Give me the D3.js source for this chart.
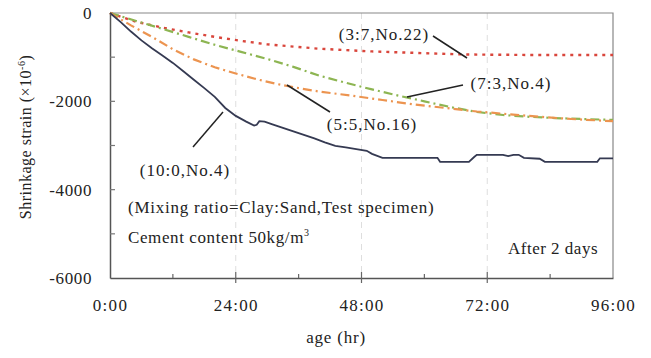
<!DOCTYPE html>
<html>
<head>
<meta charset="utf-8">
<script src="https://cdn.jsdelivr.net/npm/d3@7"></script>
<style>
  body { margin: 0; background: #fff; }
  text { font-family: "Liberation Serif", "Times New Roman", serif; fill: #222; }
</style>
</head>
<body>
<div id="chart"></div>
<script>
var svgWidth = 651;
var svgHeight = 358;
var margin = { top: 13, right: 38, bottom: 80, left: 110 };
var width = svgWidth - margin.left - margin.right;
var height = svgHeight - margin.top - margin.bottom;

// x tick values in hours, labels as h:mm
var xTicks = [0, 24, 48, 72, 96];
var xTickLabels = ["0:00", "24:00", "48:00", "72:00", "96:00"];
var yTicks = [0, -2000, -4000, -6000];

// series: [hour, strain]
var clay10 = [[0,0],[2,-200],[4,-420],[6,-620],[8,-800],[10,-960],[12,-1130],[14,-1320],[16,-1510],
  [18,-1700],[20,-1900],[22,-2150],[24,-2330],[26,-2460],[27.5,-2550],[28,-2530],[28.5,-2450],
  [29.5,-2460],[31,-2520],[33,-2600],[35,-2680],[37,-2760],[39,-2840],[41,-2930],[43,-3010],
  [45,-3040],[47,-3080],[49,-3120],[50,-3190],[52,-3280],[62.5,-3280],[63,-3370],[68.5,-3370],
  [69.5,-3260],[70,-3210],[75,-3210],[76,-3240],[77,-3210],[78,-3210],[79,-3280],[82,-3300],
  [83,-3370],[93,-3370],[93.5,-3290],[96,-3290]];
var clay3 = [[0,0],[5,-200],[10,-330],[15,-440],[20,-540],[25,-630],[30,-710],[40,-810],[50,-870],
  [60,-910],[68,-940],[80,-950],[96,-950]];
var clay7 = [[0,0],[5,-180],[10,-360],[15,-540],[20,-720],[25,-880],[30,-1040],[35,-1220],[40,-1420],
  [45,-1580],[50,-1730],[55,-1870],[60,-2000],[65,-2130],[70,-2240],[75,-2310],[80,-2350],
  [85,-2380],[90,-2400],[96,-2420]];
var clay5 = [[0,0],[4,-280],[8,-540],[12,-820],[16,-1050],[20,-1230],[24,-1370],[28,-1500],[32,-1610],
  [36,-1700],[40,-1780],[46,-1870],[52,-1970],[58,-2070],[64,-2150],[70,-2230],[76,-2290],
  [82,-2350],[88,-2400],[96,-2450]];

var svg = d3.select("#chart").append("svg")
  .attr("width", svgWidth)
  .attr("height", svgHeight);

var chartGroup = svg.append("g")
  .attr("transform", `translate(${margin.left}, ${margin.top})`);

var x = d3.scaleLinear().domain([0, 96]).range([0, width]);
var y = d3.scaleLinear().domain([-6000, 0]).range([height, 0]);

// dashed vertical gridlines
chartGroup.selectAll(".grid")
  .data([24, 48, 72])
  .enter()
  .append("line")
  .attr("x1", d => x(d)).attr("x2", d => x(d))
  .attr("y1", 0).attr("y2", height)
  .attr("stroke", "#dedede")
  .attr("stroke-dasharray", "6,5");

// frame top and right
chartGroup.append("path")
  .attr("d", `M0,0H${width}V${height}`)
  .attr("fill", "none")
  .attr("stroke", "#888")
  .attr("stroke-width", 1.2);

// x axis
var xAxis = chartGroup.append("g")
  .attr("transform", `translate(0, ${height})`)
  .call(d3.axisBottom(x).tickValues(xTicks).tickSize(0).tickPadding(21)
    .tickFormat((d, i) => xTickLabels[i]));
xAxis.select(".domain").attr("stroke", "#555").attr("stroke-width", 1.5);
xAxis.selectAll("text").style("font-size", "17px").style("letter-spacing", "1.3px").attr("fill", "#222");
xAxis.selectAll(".mtick")
  .data([12, 24, 36, 48, 60, 72, 84])
  .enter()
  .append("line")
  .attr("x1", d => x(d)).attr("x2", d => x(d))
  .attr("y1", d => d % 24 === 0 ? -6 : -4)
  .attr("y2", d => d % 24 === 0 ? 5 : 0)
  .attr("stroke", "#666")
  .attr("stroke-width", 1.2);

// y axis
var yAxis = chartGroup.append("g")
  .call(d3.axisLeft(y).tickValues(yTicks).tickSize(0).tickPadding(18).tickFormat(d => String(d)));
yAxis.select(".domain").attr("stroke", "#555").attr("stroke-width", 1.5);
yAxis.selectAll("text").style("font-size", "17px").style("letter-spacing", "0.6px").attr("fill", "#222");
yAxis.selectAll(".mtick")
  .data([-1000, -2000, -3000, -4000, -5000])
  .enter()
  .append("line")
  .attr("x1", 0).attr("x2", 5)
  .attr("y1", d => y(d)).attr("y2", d => y(d))
  .attr("stroke", "#777")
  .attr("stroke-width", 1.2);

var line = d3.line().x(d => x(d[0])).y(d => y(d[1]));

var series = [
  { data: clay3, color: "#d9463c", dash: "3,5", w: 2.4 },
  { data: clay7, color: "#8db552", dash: "9,4,2,4", w: 2.2 },
  { data: clay5, color: "#ec9450", dash: "9,4,2,4", w: 2.2 },
  { data: clay10, color: "#353a52", dash: null, w: 1.8 }
];

chartGroup.selectAll(".series")
  .data(series)
  .enter()
  .append("path")
  .attr("d", d => line(d.data))
  .attr("fill", "none")
  .attr("stroke", d => d.color)
  .attr("stroke-width", d => d.w)
  .attr("stroke-dasharray", d => d.dash);

// annotation labels with leader lines (svg coords)
var notes = [
  { text: "(3:7,No.22)", tx: 384, ty: 40, lx1: 433, ly1: 36, lx2: 467, ly2: 58 },
  { text: "(7:3,No.4)", tx: 511, ty: 89, lx1: 463, ly1: 85, lx2: 407, ly2: 97 },
  { text: "(5:5,No.16)", tx: 372, ty: 130, lx1: 287, ly1: 85, lx2: 330, ly2: 112 },
  { text: "(10:0,No.4)", tx: 185, ty: 176, lx1: 193, ly1: 147, lx2: 223, ly2: 112 }
];
svg.selectAll(".leader")
  .data(notes)
  .enter()
  .append("line")
  .attr("x1", d => d.lx1).attr("y1", d => d.ly1)
  .attr("x2", d => d.lx2).attr("y2", d => d.ly2)
  .attr("stroke", "#222")
  .attr("stroke-width", 1.5);
svg.selectAll(".note")
  .data(notes)
  .enter()
  .append("text")
  .attr("x", d => d.tx).attr("y", d => d.ty)
  .attr("text-anchor", "middle")
  .style("font-size", "17px")
  .style("letter-spacing", "1px")
  .text(d => d.text);

svg.append("text")
  .attr("x", 128).attr("y", 213)
  .style("font-size", "17px")
  .style("letter-spacing", "0.75px")
  .text("(Mixing ratio=Clay:Sand,Test specimen)");

var cem = svg.append("text")
  .attr("x", 128).attr("y", 243)
  .style("font-size", "17px")
  .style("letter-spacing", "0.6px")
  .text("Cement content 50kg/m");
cem.append("tspan")
  .attr("dy", -7)
  .style("font-size", "10px")
  .text("3");

svg.append("text")
  .attr("x", 598).attr("y", 254)
  .attr("text-anchor", "end")
  .style("font-size", "17px")
  .style("letter-spacing", "0.5px")
  .text("After 2 days");

// axis titles
svg.append("text")
  .attr("x", 336).attr("y", 343)
  .attr("text-anchor", "middle")
  .style("font-size", "17px")
  .style("letter-spacing", "0.8px")
  .text("age (hr)");

var yl = svg.append("text")
  .attr("transform", "translate(31, 137) rotate(-90)")
  .attr("text-anchor", "middle")
  .style("font-size", "16px")
  .style("letter-spacing", "0.5px")
  .text("Shrinkage strain (×10");
yl.append("tspan").attr("dy", -6).style("font-size", "10px").text("-6");
yl.append("tspan").attr("dy", 6).text(")");
</script>
</body>
</html>
